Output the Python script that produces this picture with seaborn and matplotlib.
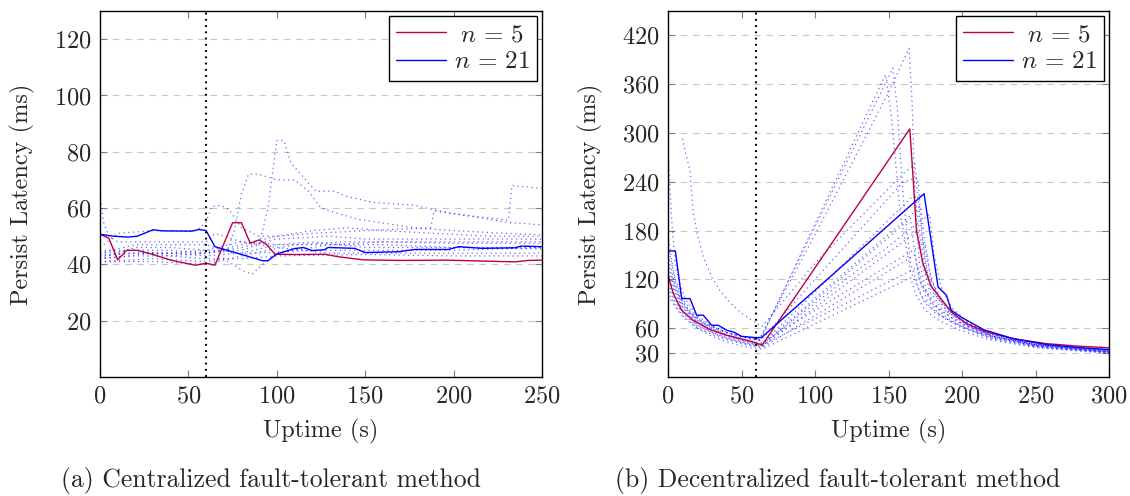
import numpy as np
import pandas as pd
import matplotlib
matplotlib.use("Agg")
import matplotlib.pyplot as plt
import seaborn as sns

# ---------------- data: (a) centralized ----------------
a_red_x = [0, 5, 10, 15, 21, 30, 40, 54, 60, 65, 75, 80, 85, 90, 94, 99, 111, 127, 135, 149, 159, 170, 197, 215, 235, 242, 250]
a_red_y = [50.7, 49.3, 41.6, 45.0, 45.0, 43.5, 41.5, 39.7, 40.4, 39.7, 54.8, 54.8, 47.5, 48.7, 47.2, 43.6, 43.5, 43.6, 42.7, 41.6, 41.5, 41.4, 41.5, 41.2, 40.9, 41.4, 41.5]
a_blue_x = [0, 8, 16, 21, 30, 35, 52, 56, 60, 65, 92, 95, 100, 110, 115, 120, 127, 129, 144, 150, 169, 178, 197, 203, 216, 235, 238, 250]
a_blue_y = [50.7, 50.0, 49.7, 50.0, 52.3, 51.9, 51.8, 52.4, 52.0, 46.3, 41.3, 41.3, 43.7, 45.6, 46.0, 44.9, 45.2, 46.0, 45.7, 44.2, 44.5, 45.3, 45.3, 46.3, 45.7, 45.9, 46.5, 46.3]

a_nodes = {
    "L1": ([0, 20, 40, 60, 80, 90, 95, 100, 104, 108, 115, 122, 133, 140, 155, 178, 188, 200, 230, 250],
           [44, 45, 45, 44, 45, 47, 60, 84, 84, 76, 71, 66, 66, 64, 62, 61, 59.5, 58, 55, 54]),
    "L2": ([0, 20, 40, 60, 72, 76, 80, 84, 90, 100, 110, 118, 125, 135, 146, 178, 200, 230, 250],
           [43, 44, 44, 45, 45, 52, 65, 72, 72, 70, 70, 66, 60, 58, 56, 53, 52, 51, 50.5]),
    "L3": ([0, 20, 40, 60, 80, 100, 120, 150, 187, 189, 200, 231, 233, 250],
           [42, 43, 43, 44, 47, 50, 51, 52, 53, 59, 58, 55.7, 68, 67]),
    "L4": ([0, 2, 5, 10, 30, 60, 65, 70, 80, 100, 130, 160, 200, 250],
           [65, 55, 50, 48, 48, 48, 51, 50, 48, 47, 47, 47, 46, 46]),
    "L5": ([0, 10, 30, 55, 60, 63, 68, 73, 80, 90, 100, 120, 140, 160, 190, 220, 250],
           [46, 51, 52, 52, 55, 60.5, 61, 59.5, 53, 50, 50, 52, 53, 52, 51, 50, 50]),
    "L6": ([0, 30, 60, 70, 80, 86, 92, 100, 130, 160, 200, 250],
           [41, 42, 41, 42, 38, 36.5, 40, 44, 47, 48, 47.5, 47.5]),
    "L7": ([0, 20, 40, 60, 80, 100, 130, 160, 200, 250],
           [42, 46, 46, 45, 48, 46, 44, 44, 44, 44]),
    "L8": ([0, 20, 40, 60, 80, 100, 120, 150, 200, 250],
           [43.5, 44, 44, 43, 44, 47, 48, 46, 46, 45.5]),
    "L9": ([0, 30, 60, 80, 110, 140, 170, 200, 250],
           [41, 41, 40, 43, 47, 48, 48, 48, 48]),
    "L10": ([0, 20, 40, 60, 75, 90, 120, 160, 200, 250],
            [44, 47, 47, 47, 44, 44, 45, 45, 45, 46]),
    "L11": ([0, 20, 40, 60, 80, 100, 150, 200, 250],
            [45, 45, 43, 42, 42, 43, 43.5, 43, 43]),
    "L12": ([0, 30, 60, 80, 100, 130, 150, 200, 250],
            [42, 44, 44, 46, 49, 50, 49, 49, 49]),
}

# ---------------- data: (b) decentralized ----------------
b_red_x = [0, 3.6, 9.3, 17, 28.5, 40, 58, 64, 164.5, 166.7, 169, 173.5, 179, 192.7, 203, 216.5, 234.6, 257, 280, 300]
b_red_y = [125, 102.6, 82, 69.8, 58.3, 51.4, 43.1, 39, 305, 246, 180, 139, 111.6, 80, 65.7, 55.4, 47.3, 41.1, 37.8, 36]
b_blue_x = [0, 5, 9.3, 15, 19.5, 24, 29.7, 34.2, 40, 45, 50, 59, 63.6, 174.2, 183.7, 189.4, 192.7, 200, 215, 235, 257, 280, 300]
b_blue_y = [155, 155, 96.4, 96.4, 76, 76, 63.6, 63.6, 57.5, 55, 50, 48.5, 48.5, 225.4, 110.7, 100.5, 82, 73, 58, 47, 40, 36, 33.8]

b_nodes = {
    "R1": ([0, 4, 8, 15, 25, 35, 45, 55, 62, 100, 130, 150, 164, 166, 168, 171, 176, 185, 200, 220, 250, 300],
           [175, 125, 100, 80, 66, 58, 52, 48, 46, 175, 280, 350, 404, 340, 220, 140, 105, 82, 65, 50, 40, 33]),
    "R2": ([0, 4, 8, 15, 25, 35, 45, 55, 62, 100, 130, 153, 156, 160, 165, 172, 182, 200, 220, 250, 300],
           [150, 118, 98, 78, 65, 57, 51, 47, 45, 185, 295, 380, 330, 220, 140, 100, 78, 62, 48, 39, 32]),
    "R3": ([0, 5, 10, 20, 30, 40, 50, 60, 63, 100, 130, 148, 152, 158, 165, 175, 190, 210, 250, 300],
           [160, 120, 95, 72, 62, 55, 50, 47, 46, 188, 303, 372, 320, 200, 130, 90, 70, 55, 40, 32]),
    "R4": ([0, 5, 10, 20, 30, 40, 50, 60, 64, 168, 171, 175, 182, 195, 215, 250, 300],
           [140, 110, 90, 70, 60, 52, 46, 42, 41, 225, 180, 130, 100, 75, 55, 40, 32]),
    "R5": ([0, 5, 10, 20, 30, 40, 50, 60, 64, 172, 175, 179, 186, 198, 218, 250, 300],
           [130, 105, 86, 67, 57, 50, 45, 41, 40, 210, 160, 120, 95, 72, 53, 39, 31]),
    "R6": ([0, 5, 10, 20, 30, 40, 50, 60, 64, 165, 168, 172, 180, 195, 215, 250, 300],
           [120, 98, 82, 64, 55, 48, 43, 39, 38, 195, 150, 115, 90, 70, 52, 38, 31]),
    "R7": ([0, 5, 10, 20, 30, 40, 50, 60, 64, 170, 173, 178, 186, 200, 220, 250, 300],
           [110, 92, 78, 62, 54, 47, 42, 38, 37, 180, 140, 105, 85, 66, 50, 38, 30]),
    "R8": ([0, 5, 10, 20, 30, 40, 50, 60, 64, 175, 178, 183, 190, 203, 222, 250, 300],
           [125, 102, 85, 67, 58, 51, 46, 43, 42, 165, 130, 100, 82, 64, 50, 39, 31]),
    "R9": ([0, 5, 10, 20, 30, 40, 50, 60, 64, 168, 171, 176, 184, 198, 218, 250, 300],
           [100, 86, 74, 60, 52, 46, 41, 37, 36, 150, 120, 95, 78, 62, 48, 37, 30]),
    "R10": ([0, 5, 10, 20, 30, 40, 50, 60, 64, 170, 174, 180, 188, 200, 220, 250, 300],
            [115, 95, 80, 63, 55, 48, 43, 40, 39, 135, 110, 90, 75, 62, 48, 37, 30]),
    "R11": ([0, 5, 10, 20, 30, 40, 50, 60, 64, 165, 169, 175, 184, 198, 218, 250, 300],
            [105, 88, 75, 60, 50, 43, 38, 35, 34, 122, 100, 82, 70, 58, 46, 36, 29]),
    "R12": ([0, 5, 10, 20, 30, 40, 50, 60, 64, 178, 181, 186, 193, 205, 225, 250, 300],
            [135, 108, 88, 69, 59, 51, 45, 41, 40, 200, 150, 110, 85, 66, 50, 39, 31]),
    "R13": ([10, 12, 15, 17, 20, 24, 30, 35, 42, 49, 55, 60, 64, 100, 130, 160, 168, 171, 176, 185, 200, 220, 250, 300],
            [293, 275, 254, 205, 175, 148, 122, 107, 92, 80, 72, 66, 62, 140, 195, 250, 262, 200, 130, 95, 68, 50, 40, 33]),
    "R14": ([0, 1.4, 3, 5, 8, 12, 20, 30, 40, 50, 60, 63, 100, 130, 160, 170, 173, 178, 190, 210, 250, 300],
            [278, 229, 180, 140, 115, 95, 75, 63, 55, 50, 46, 45, 120, 180, 240, 245, 170, 110, 80, 58, 41, 33]),
}

a_yticks = [20, 40, 60, 80, 100, 120]
b_yticks = [30, 60, 120, 180, 240, 300, 360, 420]
a_xticks = [0, 50, 100, 150, 200, 250]
b_xticks = [0, 50, 100, 150, 200, 250, 300]
fault_time = 60

# ---------------- style ----------------
sns.set_theme(style="white")
plt.rcParams["font.family"] = ["cmr10", "DejaVu Serif"]
plt.rcParams["mathtext.fontset"] = "cm"
plt.rcParams["axes.formatter.use_mathtext"] = True
plt.rcParams["axes.unicode_minus"] = False

RED = "#bf0040"
BLUE = "#0000ff"
FS = 17.5


def nodes_df(d):
    rows = []
    for k, (xs, ys) in d.items():
        for x, y in zip(xs, ys):
            rows.append((k, x, y))
    return pd.DataFrame(rows, columns=["node", "x", "y"])


fig = plt.figure(figsize=(11.30, 4.96), dpi=100)
axA = fig.add_axes([100 / 1130, 1 - 377 / 496, 442 / 1130, 366 / 496])
axB = fig.add_axes([668 / 1130, 1 - 377 / 496, 441 / 1130, 366 / 496])


def draw(ax, nodes, rx, ry, bx, by, xmax, ymax, xt, yt):
    for y in yt:
        ax.axhline(y, color="#c8c8c8", lw=0.8, ls=(0, (6, 5)), zorder=0)
    df = nodes_df(nodes)
    sns.lineplot(data=df, x="x", y="y", units="node", estimator=None, sort=False,
                 color=BLUE, lw=0.9, ls=(0, (1, 2.8)), alpha=0.6, ax=ax, legend=False)
    ax.axvline(fault_time, color="black", lw=1.5, ls=(0, (0.9, 2.1)), zorder=5)
    sns.lineplot(x=rx, y=ry, sort=False, estimator=None, color=RED, lw=1.0, ax=ax,
                 label="$\\;n\\,=\\,5$")
    sns.lineplot(x=bx, y=by, sort=False, estimator=None, color=BLUE, lw=1.0, ax=ax,
                 label="$n\\,=\\,21$")
    ax.set_xlim(0, xmax)
    ax.set_ylim(0, ymax)
    ax.set_xticks(xt)
    ax.set_yticks(yt)
    ax.tick_params(direction="in", length=5, width=0.8, color="0.5", top=True, right=True,
                   labelsize=FS, pad=6, bottom=True, left=True)
    for s in ax.spines.values():
        s.set_color("black")
        s.set_linewidth(1.0)
    ax.set_xlabel("Uptime (s)", fontsize=FS, labelpad=8)
    ax.set_ylabel("Persist Latency (ms)", fontsize=FS, labelpad=14)
    leg = ax.legend(loc="upper right", frameon=True, fancybox=False, edgecolor="black",
                    framealpha=1, fontsize=18, handlelength=2.0, handletextpad=0.3,
                    borderpad=0.3, labelspacing=0.2, borderaxespad=0.2)
    leg.get_frame().set_linewidth(1.0)


draw(axA, a_nodes, a_red_x, a_red_y, a_blue_x, a_blue_y, 250, 130, a_xticks, a_yticks)
draw(axB, b_nodes, b_red_x, b_red_y, b_blue_x, b_blue_y, 300, 450, b_xticks, b_yticks)

fig.text(271 / 1130, 1 - 481 / 496, "(a) Centralized fault-tolerant method", ha="center", va="center", fontsize=18.5)
fig.text(838 / 1130, 1 - 481 / 496, "(b) Decentralized fault-tolerant method", ha="center", va="center", fontsize=18.5)

fig.savefig("out.png", dpi=100)
